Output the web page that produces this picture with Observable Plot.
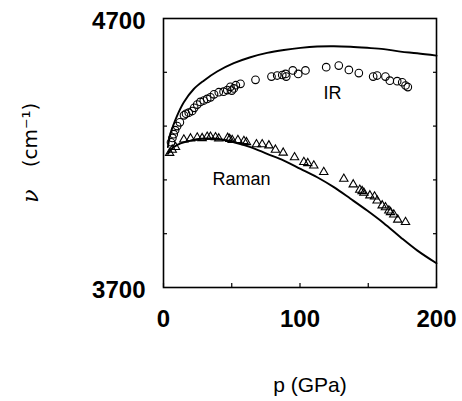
<!DOCTYPE html>
<html><head><meta charset="utf-8">
<script src="https://cdn.jsdelivr.net/npm/d3@7"></script>
<script src="https://cdn.jsdelivr.net/npm/@observablehq/plot@0.6"></script>
<style>body{margin:0;background:#fff}</style>
</head><body><div id="chart"></div>
<script>
// IR data (circles)
const irP  = [5.5,6.5,7.5,8.5,10,12,15,16.5,18.5,21,22.5,24.7,27,29.5,32,34.4,37,40.5,44,46.7,49,50,51.5,53,56.4,67.4,79.1,83.3,87,89.4,89.9,94.7,98.7,104,119.2,128.4,135.8,143.1,153.6,156.5,162.6,165.8,171.2,174.9,177.3,179];
const irNu = [4240,4256,4270,4285,4300,4314,4340,4346,4350,4356,4368,4380,4390,4395,4401,4407,4418,4426,4428,4434,4446,4432,4440,4452,4457,4472,4484,4488,4490,4494,4484,4507,4494,4507,4519,4525,4509,4497,4484,4488,4484,4469,4467,4463,4451,4445];
// Raman data (triangles)
const ramanP  = [4.5,6.4,8.8,14.9,19.8,24.7,28.3,32,34.4,38.1,40.5,47,48.5,50.3,54.5,58.9,60.8,68.1,72.3,77.2,82,87.7,96,102.8,105.7,110.1,117.4,132.1,139,143.8,145.5,146.8,151.2,154.6,156.5,160.2,162.6,165.1,166.3,168.7,171.6,177.3];
const ramanNu = [4200,4212,4222,4250,4254,4257,4255,4260,4260,4258,4254,4256,4252,4248,4248,4244,4240,4232,4232,4228,4212,4201,4184,4166,4162,4153,4129,4104,4083,4063,4058,4052,4042,4038,4023,4005,3998,3986,3980,3971,3952,3943];
// Theory curves
const irFitP  = [3.2,5.1,10,14.9,22.2,29.5,39.3,51.5,63.7,75.9,88.2,100.4,112.6,124.8,137,149.2,161.4,173.6,185.8,200];
const irFitNu = [4222,4271,4339,4389,4438,4469,4503,4534,4556,4572,4583,4591,4596,4597,4595,4591,4586,4577,4571,4562];
const ramanFitP  = [3.2,7.6,12.5,19.8,27.1,39.3,51.5,63.7,75.9,88.2,100.4,112.6,124.8,137,149.2,161.4,173.6,185.8,200];
const ramanFitNu = [4197,4222,4236,4246,4253,4253,4240,4222,4197,4172,4141,4110,4073,4030,3986,3939,3887,3838,3790];
// Ticks
const xTicks = [0,50,100,150,200];
const xTickLabels = [0,100,200];
const yTicks = [3900,4100,4300,4500];
const yTickLabels = [3700,4700];
// Labels
const annotations = [{p:123.8, nu:4421, text:"IR"},{p:57.1, nu:4103, text:"Raman"}];

const ir = irP.map((p,i)=>({p, nu:irNu[i]}));
const raman = ramanP.map((p,i)=>({p, nu:ramanNu[i]}));
const irFit = irFitP.map((p,i)=>({p, nu:irFitNu[i]}));
const ramanFit = ramanFitP.map((p,i)=>({p, nu:ramanFitNu[i]}));

const font = "'Liberation Sans', Arial, sans-serif";

const chart = Plot.plot({
  width: 462,
  height: 401,
  marginLeft: 163,
  marginRight: 26,
  marginTop: 18,
  marginBottom: 114,
  style: {fontFamily: font, background: "#fff", color: "#000"},
  x: {domain: [0, 200]},
  y: {domain: [3700, 4700]},
  marks: [
    Plot.frame({stroke: "#000", strokeWidth: 1.6}),
    Plot.axisX(xTicks, {anchor: "bottom", tickSize: -4, text: null, strokeWidth: 1.2, label: null}),
    Plot.axisX(xTickLabels, {anchor: "bottom", tickSize: 0, tickPadding: 22, fontSize: 24, fontWeight: "bold", label: null, tickFormat: d => String(d)}),
    Plot.axisY(yTicks, {anchor: "left", tickSize: -4, text: null, strokeWidth: 1.2, label: null}),
    Plot.axisY(yTicks, {anchor: "right", tickSize: -4, text: null, strokeWidth: 1.2, label: null}),
    Plot.axisY(yTickLabels, {anchor: "left", tickSize: 0, tickPadding: 18, fontSize: 24, fontWeight: "bold", label: null, tickFormat: d => String(d), dy: 3}),
    Plot.line(irFit, {x: "p", y: "nu", stroke: "#000", strokeWidth: 1.9, curve: "catmull-rom"}),
    Plot.line(ramanFit, {x: "p", y: "nu", stroke: "#000", strokeWidth: 1.9, curve: "catmull-rom"}),
    Plot.dot(ir, {x: "p", y: "nu", r: 3.8, stroke: "#000", strokeWidth: 1.1, fill: "none", symbol: "circle"}),
    Plot.dot(raman, {x: "p", y: "nu", r: 3.1, stroke: "#000", strokeWidth: 1.1, fill: "none", symbol: "triangle"}),
    Plot.text(annotations, {x: "p", y: "nu", text: "text", fontSize: 18, fill: "#000", fontFamily: font}),
    Plot.text(["p (GPa)"], {frameAnchor: "bottom", dy: 104, dx: 10, fontSize: 21, fill: "#000", fontFamily: font}),
    Plot.text(["(cm⁻¹)"], {frameAnchor: "left", textAnchor: "middle", dx: -133, dy: -18, rotate: -90, fontSize: 20, fill: "#000", fontFamily: "'DejaVu Sans', sans-serif"}),
    Plot.text(["ν"], {frameAnchor: "left", textAnchor: "middle", dx: -133, dy: 43, rotate: -90, fontSize: 22, fill: "#000", fontFamily: "'DejaVu Serif', serif", fontStyle: "italic"})
  ]
});
document.getElementById("chart").appendChild(chart);
</script>
</body></html>
